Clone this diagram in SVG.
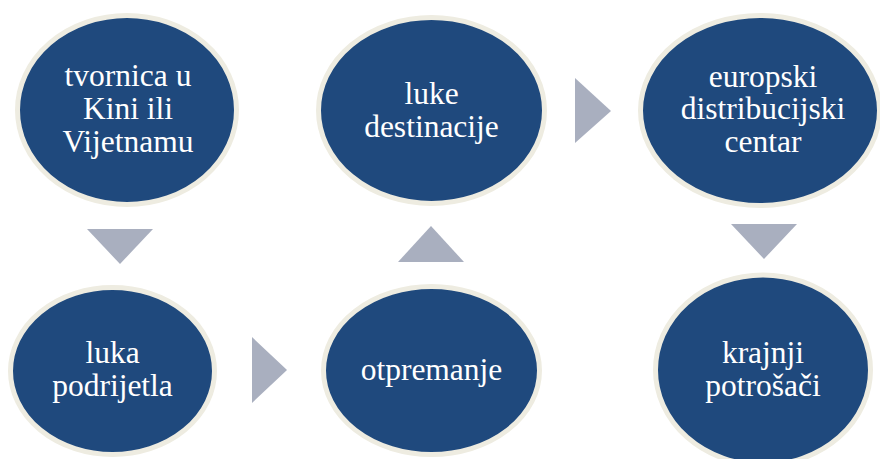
<svg xmlns="http://www.w3.org/2000/svg" width="880" height="459" viewBox="0 0 880 459">
<style>
.node ellipse{fill:#1F497D;stroke:#EEECE1;stroke-width:5}
.arrow{fill:#A9AFBF}
</style>
<rect width="880" height="459" fill="#FFFFFF"/>
<g id="connectors">
<polygon class="arrow" points="87,229 153,229 120,264"/>
<polygon class="arrow" points="252,337 252,403 287,370"/>
<polygon class="arrow" points="431,226 464,262 398,262"/>
<polygon class="arrow" points="575,78 575,143 611,111"/>
<polygon class="arrow" points="731,224 797,224 764,259"/>
</g>
<g font-family="Liberation Serif, Tinos, DejaVu Serif, serif" font-size="31.5" fill="#FFFFFF" text-anchor="middle">
<g id="node-tvornica" class="node">
<ellipse cx="127" cy="110" rx="109.5" ry="94.5"/>
<text x="128" y="86">tvornica u</text>
<text x="128" y="119">Kini ili</text>
<text x="128" y="152">Vijetnamu</text>
</g>
<g id="node-luka-podrijetla" class="node">
<ellipse cx="112.5" cy="371" rx="102" ry="83.5"/>
<text x="112.5" y="363">luka</text>
<text x="112.5" y="396">podrijetla</text>
</g>
<g id="node-otpremanje" class="node">
<ellipse cx="431.5" cy="370.5" rx="108" ry="84"/>
<text x="431.5" y="380">otpremanje</text>
</g>
<g id="node-luke-destinacije" class="node">
<ellipse cx="431.5" cy="110.5" rx="113" ry="93"/>
<text x="431.5" y="104">luke</text>
<text x="431.5" y="137">destinacije</text>
</g>
<g id="node-europski" class="node">
<ellipse cx="760" cy="110.5" rx="119.5" ry="95"/>
<text x="763" y="87">europski</text>
<text x="763" y="119">distribucijski</text>
<text x="763" y="152">centar</text>
</g>
<g id="node-krajnji" class="node">
<ellipse cx="763" cy="370" rx="107.5" ry="95"/>
<text x="763" y="363">krajnji</text>
<text x="763" y="396">potrošači</text>
</g>
</g>
</svg>
